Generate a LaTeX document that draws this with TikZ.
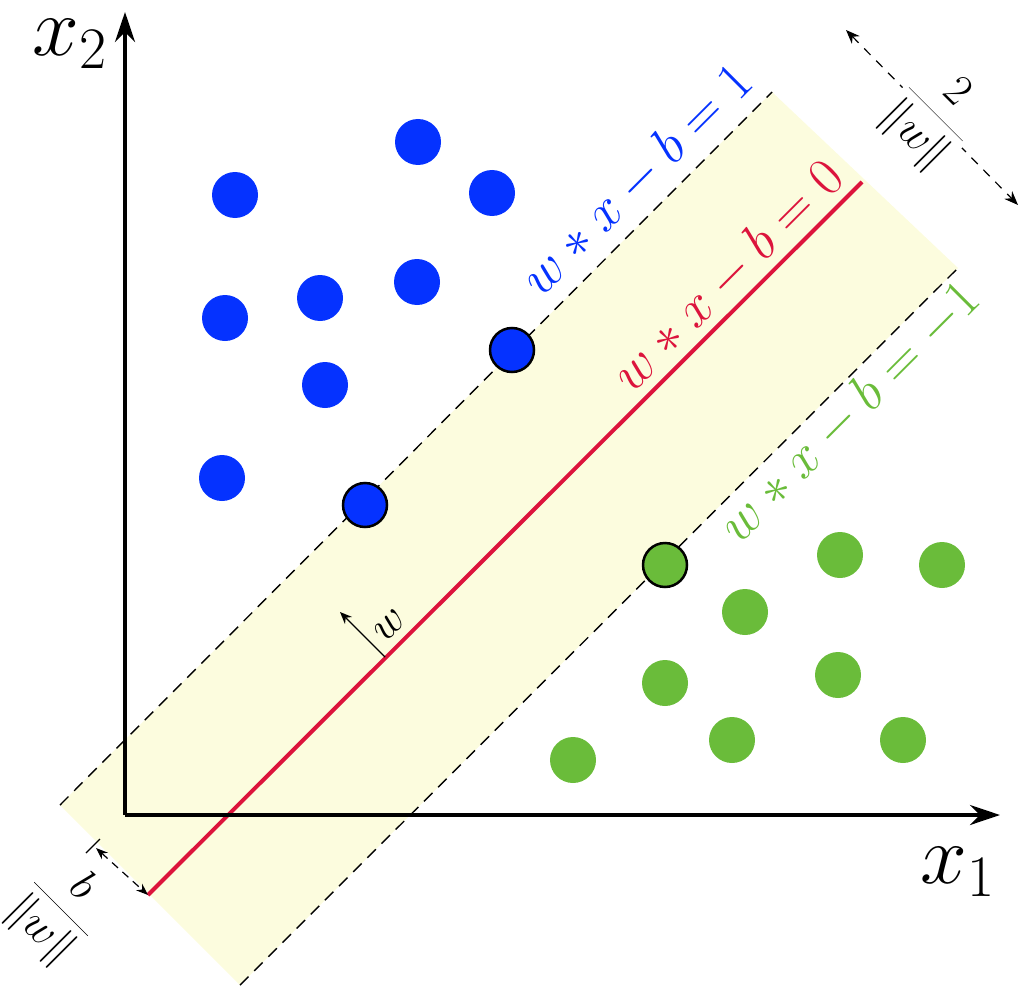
\documentclass[tikz,border=0pt]{standalone}
\usepackage{fix-cm}
\usetikzlibrary{arrows.meta}
\definecolor{pblue}{RGB}{5,50,255}
\definecolor{pgreen}{RGB}{106,188,58}
\definecolor{pred}{RGB}{220,20,60}
\definecolor{pyel}{RGB}{252,252,222}
\tikzset{
 bpt/.style={circle,fill=pblue,minimum size=46pt,inner sep=0pt},
 gpt/.style={circle,fill=pgreen,minimum size=46pt,inner sep=0pt},
 sv/.style={draw=black,line width=2.5pt,minimum size=44pt},
 eq/.style={font=\fontsize{54}{64}\selectfont,rotate=45,inner sep=0pt},
 frac/.style={font=\fontsize{44}{55}\selectfont,rotate=-45,inner sep=0pt},
 mdash/.style={dashed,dash pattern=on 12pt off 8pt,line width=1.4pt},
}
\begin{document}
\begin{tikzpicture}[x=1pt,y=-1pt]
\useasboundingbox (0,0) rectangle (1024,995);
\fill[pyel] (60,805) -- (772,92) -- (958,268) -- (240,985) -- cycle;
\coordinate (u1) at (60,805); \coordinate (u2) at (772,92);
\coordinate (l1) at (240,985); \coordinate (l2) at (958,268);
\coordinate (r1) at (148,895); \coordinate (r2) at (862,182);
\draw[mdash] (u1) -- (u2);
\draw[mdash] (l1) -- (l2);
\draw[pred,line width=4pt] (r1) -- (r2);
% axes
\coordinate (o) at (125,815);
\coordinate (xe) at (1000,815);
\coordinate (ye) at (125,12);
\draw[line width=4pt,-{Stealth[length=30pt,width=20pt]}] (o) -- (xe);
\draw[line width=4pt,-{Stealth[length=30pt,width=20pt]}] (o) -- (ye);
\node[font=\fontsize{84}{96}\selectfont] (lx2) at (70,44) {$x_2$};
\node[font=\fontsize{84}{96}\selectfont] (lx1) at (958,872) {$x_1$};
% points
\foreach \p [count=\i] in {(235,195),(418,142),(492,193),(225,318),(320,298),(417,282),(325,385),(222,478)}
  \node[bpt] (b\i) at \p {};
\node[bpt,sv] (bs1) at (512,350) {};
\node[bpt,sv] (bs2) at (365,505) {};
\foreach \p [count=\i] in {(840,555),(942,565),(745,612),(838,675),(665,683),(732,740),(903,740),(573,760)}
  \node[gpt] (g\i) at \p {};
\node[gpt,sv] (gs1) at (665,565) {};
% labels
\node[eq,text=pblue] (e1) at (637,180) {$w*x-b=1$};
\node[eq,text=pred] (e0) at (728,276) {$w*x-b=0$};
\node[eq,text=pgreen] (em) at (850,412) {$w*x-b=-1$};
% w vector
\coordinate (wa) at (385,657); \coordinate (wb) at (340,612);
\draw[line width=1.4pt,-{Stealth[length=12pt,width=10pt]}] (wa) -- (wb);
\node[font=\fontsize{44}{55}\selectfont,rotate=45,inner sep=0pt] (wl) at (390,625) {$w$};
% margin width
\coordinate (m1) at (846,30); \coordinate (m2) at (1018,205);
\draw[mdash,line width=1.2pt,dash pattern=on 9pt off 8pt,{Stealth[length=14pt,width=11pt]}-{Stealth[length=14pt,width=11pt]}] (m1) -- (m2);
\node[frac,fill=white,inner sep=3pt] (fw) at (934,116) {$\displaystyle\frac{2}{\|w\|}$};
% offset b
\coordinate (t1) at (86,853); \coordinate (t2) at (100,839);
\draw[line width=1.2pt] (t1) -- (t2);
\coordinate (bb1) at (96,848);
\draw[mdash,line width=1.2pt,dash pattern=on 8pt off 6pt,{Stealth[length=12pt,width=9pt]}-{Stealth[length=12pt,width=9pt]}] (bb1) -- (r1);
\node[frac] (fb) at (60,910) {$\displaystyle\frac{b}{\|w\|}$};
\end{tikzpicture}
\end{document}
